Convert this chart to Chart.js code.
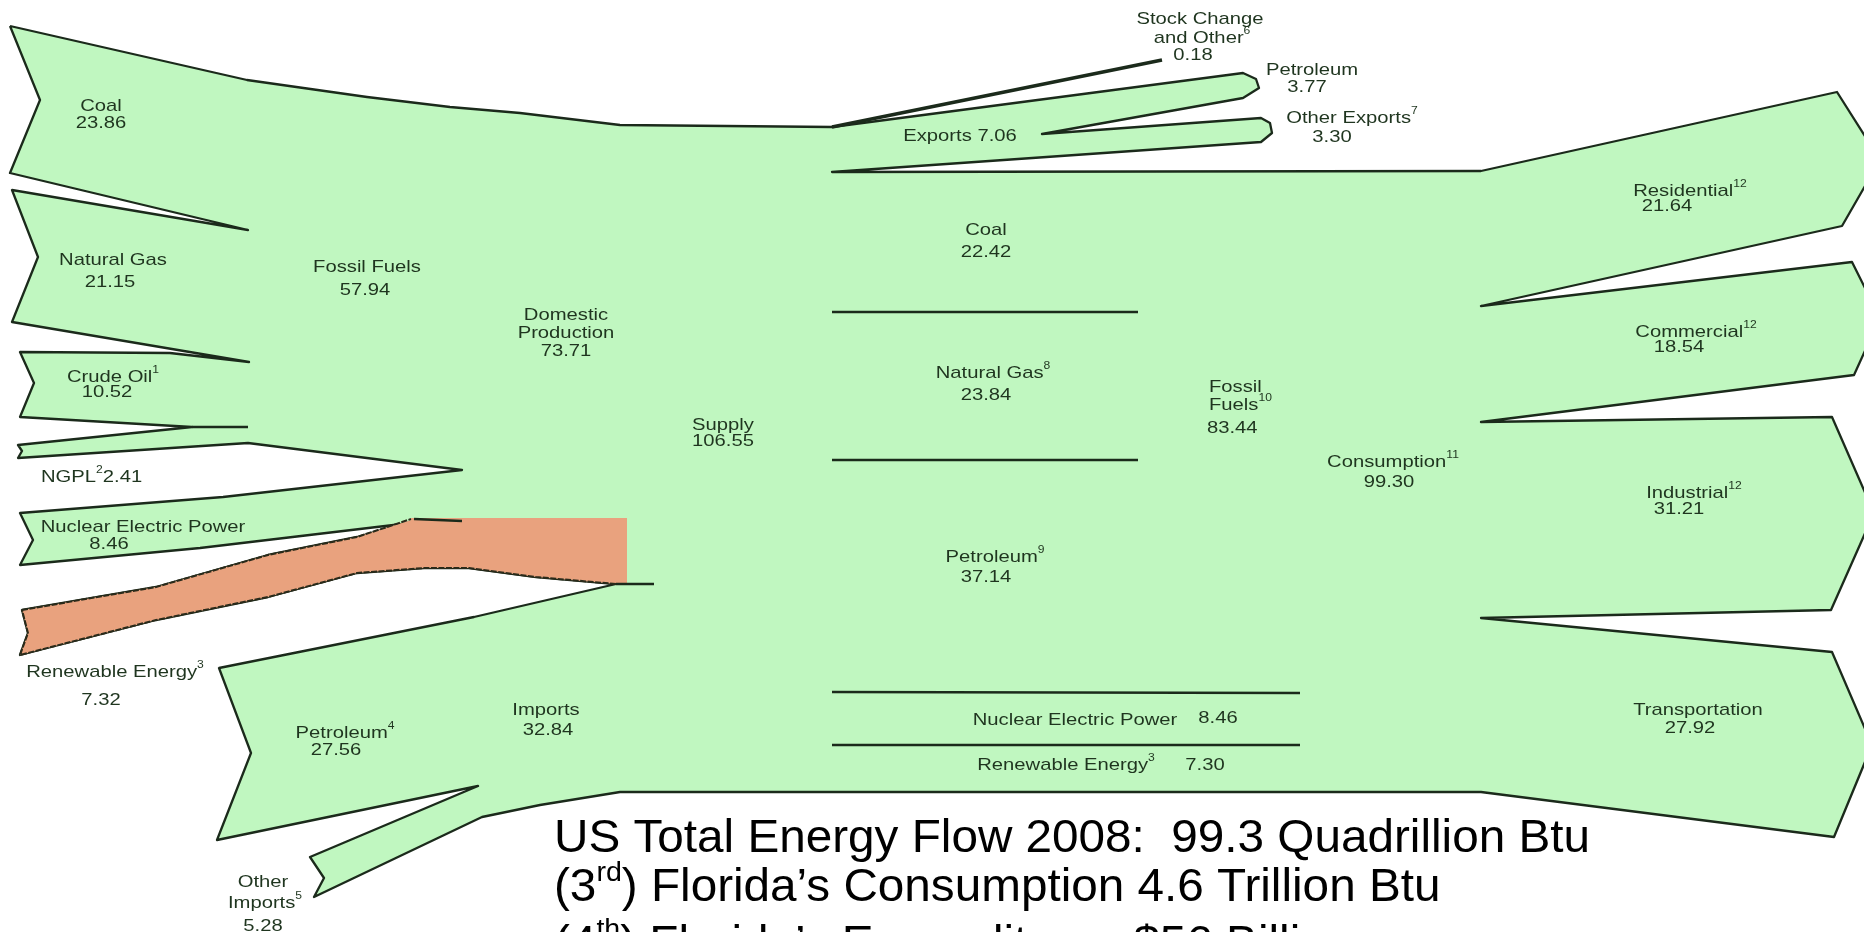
<!DOCTYPE html>
<html><head><meta charset="utf-8">
<script src="https://cdn.jsdelivr.net/npm/chart.js@4.4.1/dist/chart.umd.min.js"></script>
<style>html,body{margin:0;padding:0;background:#fff;overflow:hidden}#wrap{width:1864px;height:932px}</style>
</head><body><div id="wrap"><canvas id="c" width="1864" height="932"></canvas></div>
<script>
// ---------------- data: names and values (quadrillion Btu, 2008) ----------------
const supplySources = ['Coal','Natural Gas','Crude Oil^{1}','NGPL^{2}','Nuclear Electric Power','Renewable Energy^{3}'];
const supplyValues  = [23.86, 21.15, 10.52, 2.41, 8.46, 7.32];
const importSources = ['Petroleum^{4}','Other Imports^{5}'];
const importValues  = [27.56, 5.28];
const supplyTotals  = ['Fossil Fuels','Domestic Production','Imports','Supply'];
const supplyTotalValues = [57.94, 73.71, 32.84, 106.55];
const exportItems   = ['Stock Change and Other^{6}','Petroleum','Other Exports^{7}','Exports'];
const exportValues  = [0.18, 3.77, 3.30, 7.06];
const fuelItems     = ['Coal','Natural Gas^{8}','Petroleum^{9}','Fossil Fuels^{10}','Nuclear Electric Power','Renewable Energy^{3}','Consumption^{11}'];
const fuelValues    = [22.42, 23.84, 37.14, 83.44, 8.46, 7.30, 99.30];
const sectors       = ['Residential^{12}','Commercial^{12}','Industrial^{12}','Transportation'];
const sectorValues  = [21.64, 18.54, 31.21, 27.92];
const noteLines     = ['US Total Energy Flow 2008:  99.3 Quadrillion Btu',
                       '(3^{rd}) Florida\u2019s Consumption 4.6 Trillion Btu',
                       '(4^{th}) Florida\u2019s Expenditures $56 Billion'];

// ---------------- layout (diagram geometry, in canvas units) ----------------
const geometry = {
  flowBody: [[10,26],[247,80],[367,97],[450,107],[520,113],[620,125],[832,127],
    [1243,73],[1256,79],[1259,88],[1243,98],[1042,134],
    [1261,118],[1270,123],[1272,133],[1261,142],[832,172],
    [1481,171],[1837,92],[1880,160],[1842,226],[1481,306],
    [1852,262],[1880,318],[1854,375],[1481,422],
    [1832,417],[1874,513],[1831,610],[1481,618],
    [1832,652],[1872,745],[1834,837],[1481,792],
    [620,792],[540,805],[482,817],[314,897],[324,878],[310,857],[478,786],
    [217,840],[251,753],[219,668],[474,617],[616,584],
    [536,577],[469,568],[424,568],[357,573],[268,597],[156,620],[20,655],[28,633],[22,610],
    [156,587],[268,555],[357,537],[402,524],
    [200,548],[20,565],[33,540],[20,513],[223,497],[462,470],
    [248,443],[18,458],[22,451],[18,445],[192,427],
    [20,417],[34,383],[20,352],[170,353],[249,362],
    [12,322],[38,257],[12,190],[248,230],
    [10,173],[40,100],[10,26]],
  highlight: [[22,610],[156,587],[268,555],[357,537],[411,520],[411,518],[627,518],[627,583],
    [616,584],[536,577],[469,568],[424,568],[357,573],[268,597],[156,620],[20,655],[28,633],[22,610]],
  highlightTop: [[22,610],[156,587],[268,555],[357,537],[411,519]],
  highlightBottom: [[616,584],[536,577],[469,568],[424,568],[357,573],[268,597],[156,620],[20,655],[28,633],[22,610]],
  strokes: [
    [[832,127],[1162,60]],
    [[832,312],[1138,312]],
    [[832,460],[1138,460]],
    [[832,692],[1300,693]],
    [[832,745],[1300,745]],
    [[192,427],[248,427]],
    [[616,584],[654,584]],
    [[414,519],[462,521]]
  ]
};

const labelLayout = [
  {n:supplySources, v:supplyValues, i:0, parts:[['n',101,106],['v',101,123]]},
  {n:supplySources, v:supplyValues, i:1, parts:[['n',113,260],['v',110,282]]},
  {n:supplySources, v:supplyValues, i:2, parts:[['n',113,377],['v',107,392]]},
  {n:supplySources, v:supplyValues, i:3, parts:[['nv',41,477,'left']]},
  {n:supplySources, v:supplyValues, i:4, parts:[['n',143,527],['v',109,544]]},
  {n:supplySources, v:supplyValues, i:5, parts:[['n',115,672],['v',101,700]]},
  {n:importSources, v:importValues, i:0, parts:[['n',345,733],['v',336,750]]},
  {n:importSources, v:importValues, i:1, wrap:1, parts:[['n0',263,882],['n1',265,903],['v',263,926]]},
  {n:supplyTotals, v:supplyTotalValues, i:0, parts:[['n',367,267],['v',365,290]]},
  {n:supplyTotals, v:supplyTotalValues, i:1, wrap:1, parts:[['n0',566,315],['n1',566,333],['v',566,351]]},
  {n:supplyTotals, v:supplyTotalValues, i:2, parts:[['n',546,710],['v',548,730]]},
  {n:supplyTotals, v:supplyTotalValues, i:3, parts:[['n',723,425],['v',723,441]]},
  {n:exportItems, v:exportValues, i:0, wrap:2, parts:[['n0',1200,19],['n1',1202,38],['v',1193,55]]},
  {n:exportItems, v:exportValues, i:1, parts:[['n',1312,70],['v',1307,87]]},
  {n:exportItems, v:exportValues, i:2, parts:[['n',1352,118],['v',1332,137]]},
  {n:exportItems, v:exportValues, i:3, parts:[['nv',960,136]]},
  {n:fuelItems, v:fuelValues, i:0, parts:[['n',986,230],['v',986,252]]},
  {n:fuelItems, v:fuelValues, i:1, parts:[['n',993,373],['v',986,395]]},
  {n:fuelItems, v:fuelValues, i:2, parts:[['n',995,557],['v',986,577]]},
  {n:fuelItems, v:fuelValues, i:3, wrap:1, parts:[['n0',1209,387,'left'],['n1',1209,405,'left'],['v',1207,428,'left']]},
  {n:fuelItems, v:fuelValues, i:4, parts:[['n',1075,720],['v',1218,718]]},
  {n:fuelItems, v:fuelValues, i:5, parts:[['n',1066,765],['v',1205,765]]},
  {n:fuelItems, v:fuelValues, i:6, parts:[['n',1393,462],['v',1389,482]]},
  {n:sectors, v:sectorValues, i:0, parts:[['n',1690,191],['v',1667,206]]},
  {n:sectors, v:sectorValues, i:1, parts:[['n',1696,332],['v',1679,347]]},
  {n:sectors, v:sectorValues, i:2, parts:[['n',1694,493],['v',1679,509]]},
  {n:sectors, v:sectorValues, i:3, parts:[['n',1698,710],['v',1690,728]]}
];

const FILL = '#c0f7c0', EDGE = '#1b2a1b', HILITE = '#e9a27e', TEXT = '#1f351f';
const pts = a => a.map(p => ({x:p[0], y:p[1]}));

const datasets = [
  {data:pts(geometry.flowBody), showLine:true, fill:'shape', backgroundColor:FILL, borderColor:EDGE, borderWidth:2.3, order:10},
  {data:pts(geometry.highlight), showLine:true, fill:'shape', backgroundColor:HILITE, borderColor:'rgba(0,0,0,0)', borderWidth:0, order:6},
  {data:pts(geometry.highlightTop), showLine:true, fill:false, borderColor:'#2a2a1a', borderWidth:2, borderDash:[6,1.5], order:5},
  {data:pts(geometry.highlightBottom), showLine:true, fill:false, borderColor:'#2a2a1a', borderWidth:2, borderDash:[6,1.5], order:5}
];
geometry.strokes.forEach((s,k) => datasets.push({data:pts(s), showLine:true, fill:false,
  borderColor:EDGE, borderWidth: k===0 ? 3.5 : 2.6, order:4}));
datasets.forEach(d => { d.pointRadius = 0; d.pointHoverRadius = 0; d.tension = 0; d.borderJoinStyle = 'round'; });

function drawRich(ctx, str, x, y, size, align, stretch, color, baseline) {
  const segs = []; const re = /\^\{([^}]*)\}/g; let last = 0, m;
  while ((m = re.exec(str))) {
    if (m.index > last) segs.push({t:str.slice(last, m.index), sup:false});
    segs.push({t:m[1], sup:true}); last = re.lastIndex;
  }
  if (last < str.length) segs.push({t:str.slice(last), sup:false});
  const fam = '"Liberation Sans", Arial, sans-serif';
  let w = 0;
  segs.forEach(s => { ctx.font = (s.sup ? size*0.6 : size) + 'px ' + fam; s.w = ctx.measureText(s.t).width; w += s.w; });
  ctx.save();
  ctx.translate(x, y); ctx.scale(stretch, 1);
  let cx = align === 'left' ? 0 : -w/2;
  ctx.textBaseline = baseline || 'middle'; ctx.fillStyle = color;
  segs.forEach(s => {
    ctx.font = (s.sup ? size*0.6 : size) + 'px ' + fam;
    ctx.fillText(s.t, cx, s.sup ? -size*0.42 : 0);
    cx += s.w;
  });
  ctx.restore();
  return w * stretch;
}

const textPlugin = {
  id:'texts',
  afterDraw(chart) {
    const ctx = chart.ctx, xs = chart.scales.x, ys = chart.scales.y;
    labelLayout.forEach(L => {
      const name = L.n[L.i], val = L.v[L.i].toFixed(2);
      const words = name.split(' ');
      L.parts.forEach(p => {
        let t;
        if (p[0] === 'n') t = name;
        else if (p[0] === 'v') t = val;
        else if (p[0] === 'n0') t = words.slice(0, L.wrap).join(' ');
        else if (p[0] === 'n1') t = words.slice(L.wrap).join(' ');
        else if (p[0] === 'nv') t = name.indexOf('^{') >= 0 ? name + val : name + ' ' + val;
        drawRich(ctx, t, xs.getPixelForValue(p[1]), ys.getPixelForValue(p[2]), 17, p[3] || 'center', 1.19, TEXT);
      });
    });
    // footnote lines
    const fs = 47;
    ctx.font = fs + 'px "Liberation Sans", Arial, sans-serif';
    const w0 = ctx.measureText(noteLines[0]).width;
    const x0 = 554, x1 = 1590;
    const st = (x1 - x0) / w0;
    const bl = [852, 901, 958];
    noteLines.forEach((t, k) => drawRich(ctx, t, xs.getPixelForValue(x0), ys.getPixelForValue(bl[k]), fs, 'left', st, '#000', 'alphabetic'));
  }
};

new Chart(document.getElementById('c'), {
  type:'scatter',
  data:{datasets},
  options:{
    responsive:false, animation:false, devicePixelRatio:1, events:[],
    layout:{padding:0},
    plugins:{legend:{display:false}, tooltip:{enabled:false}},
    scales:{
      x:{type:'linear', min:0, max:1864, display:false},
      y:{type:'linear', min:0, max:932, reverse:true, display:false}
    }
  },
  plugins:[textPlugin]
});
</script></body></html>
